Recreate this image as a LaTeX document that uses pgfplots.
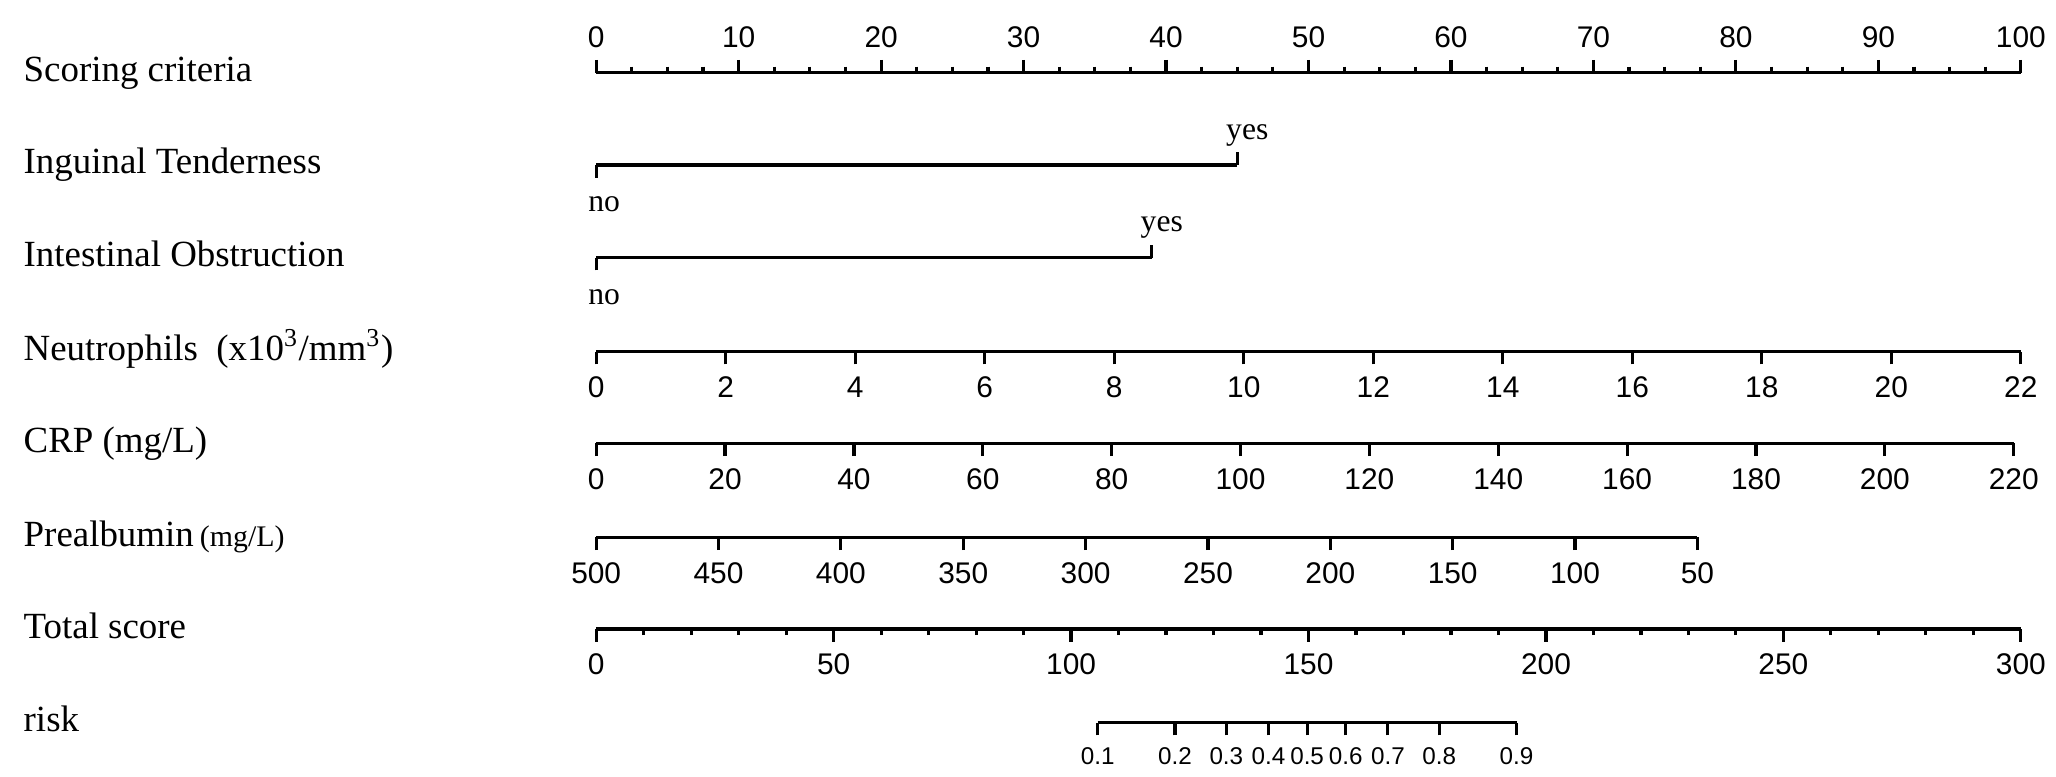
\documentclass[border=0pt]{standalone}
\usepackage{fontspec}
\setmainfont{Liberation Serif}
\setsansfont{Liberation Sans}
\usepackage{pgfplots}
\pgfplotsset{compat=1.18}
\pgfplotsset{
  nomo/.style={
    scale only axis, height=0.3cm,
    ymin=0, ymax=1, ytick=\empty,
    axis y line=none,
    tick style={black, line width=0.9pt},
    major tick length=0.127cm,
    minor tick length=0.06cm,
    /pgf/number format/assume math mode=true,
    xticklabel style={font=\fontsize{8.5}{10}\sffamily},
    clip=false,
  },
  bot/.style={nomo, axis x line=bottom, tick align=outside, anchor=south west,
    axis line style={-}, x axis line style={-, line width=1pt, black}},
  topax/.style={nomo, axis x line=top, tick align=outside, anchor=north west,
    axis line style={-}, x axis line style={-, line width=1pt, black}},
}
\newcommand{\rowname}[2]{\node[anchor=base west, inner sep=0pt, font=\fontsize{10.5}{12}\selectfont] at (0.23cm,#1) {#2};}
\begin{document}
\begin{tikzpicture}
\useasboundingbox (0,0) rectangle (20.56cm,7.76cm);
% row names
\rowname{6.94cm}{Scoring criteria}
\rowname{6.02cm}{Inguinal Tenderness}
\rowname{5.093cm}{Intestinal Obstruction}
\rowname{4.153cm}{Neutrophils~~(x10\textsuperscript{3}/mm\textsuperscript{3})}
\rowname{3.237cm}{CRP (mg/L)}
\rowname{2.297cm}{Prealbumin\,{\fontsize{8.5}{10}\selectfont(mg/L)}}
\rowname{1.38cm}{Total score}
\rowname{0.443cm}{risk}

% Scoring criteria (points)
\begin{axis}[topax, at={(5.962cm,7.033cm)}, width=14.246cm,
  xmin=0, xmax=100, xtick={0,10,...,100}, minor x tick num=3]
\end{axis}

% Inguinal Tenderness: no = 0, yes = 45 points
\begin{axis}[bot, at={(5.962cm,6.11cm)}, width=6.411cm,
  xmin=0, xmax=45, xtick={0}, xticklabels={no},
  xticklabel style={font=\fontsize{9}{10}\rmfamily, xshift=0.08cm, yshift=-0.065cm},
  extra x ticks={45}, extra x tick labels={yes},
  extra x tick style={tick align=inside, xticklabel style={anchor=south, xshift=0.02cm, yshift=0.13cm}}]
\end{axis}

% Intestinal Obstruction: no = 0, yes = 39 points
\begin{axis}[bot, at={(5.962cm,5.183cm)}, width=5.556cm,
  xmin=0, xmax=39, xtick={0}, xticklabels={no},
  xticklabel style={font=\fontsize{9}{10}\rmfamily, xshift=0.08cm, yshift=-0.065cm},
  extra x ticks={39}, extra x tick labels={yes},
  extra x tick style={tick align=inside, xticklabel style={anchor=south, xshift=0.02cm, yshift=0.13cm}}]
\end{axis}

% Neutrophils 0-22
\begin{axis}[bot, at={(5.962cm,4.243cm)}, width=14.246cm,
  xmin=0, xmax=22, xtick={0,2,...,22}]
\end{axis}

% CRP 0-220
\begin{axis}[bot, at={(5.962cm,3.327cm)}, width=14.175cm,
  xmin=0, xmax=220, xtick={0,20,...,220}]
\end{axis}

% Prealbumin 500-50 (reversed)
\begin{axis}[bot, at={(5.962cm,2.387cm)}, width=11.012cm,
  xmin=50, xmax=500, x dir=reverse, xtick={50,100,...,500}]
\end{axis}

% Total score 0-300
\begin{axis}[bot, at={(5.962cm,1.47cm)}, width=14.246cm,
  xmin=0, xmax=300, xtick={0,50,...,300}, minor x tick num=4]
\end{axis}

% risk (positions in total-score units)
\begin{axis}[bot, at={(10.977cm,0.533cm)}, width=4.188cm,
  xmin=105.6, xmax=193.8,
  xtick={105.6,121.87,132.69,141.56,149.7,157.84,166.71,177.53,193.8},
  xticklabels={0.1,0.2,0.3,0.4,0.5,0.6,0.7,0.8,0.9},
  xticklabel style={font=\fontsize{6.9}{8}\sffamily}]
\end{axis}
\end{tikzpicture}
\end{document}
